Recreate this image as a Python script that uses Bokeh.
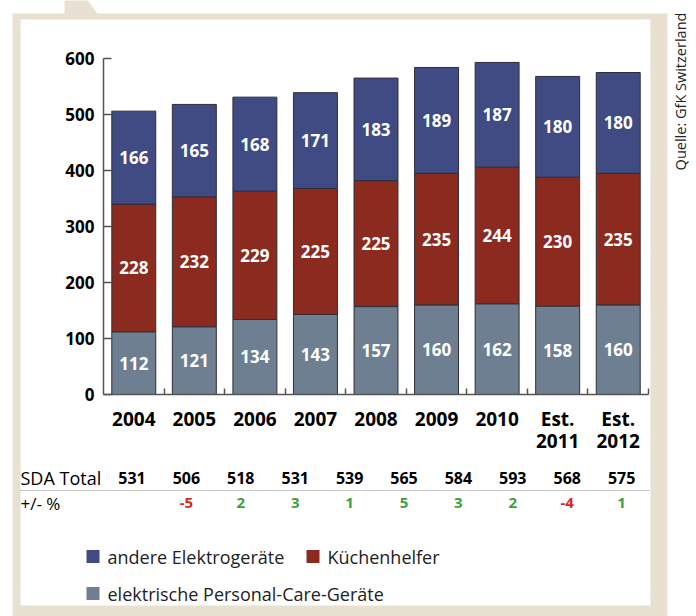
from math import pi
from bokeh.plotting import figure
from bokeh.models import (ColumnDataSource, FixedTicker, Label, BoxAnnotation,
                          PolyAnnotation, Arrow, Range1d)
from bokeh.core.properties import value
from bokeh.embed import file_html
from bokeh.resources import INLINE

# ---------------- data ----------------
years = ["2004", "2005", "2006", "2007", "2008", "2009", "2010", "Est.\n2011", "Est.\n2012"]
personal = [112, 121, 134, 143, 157, 160, 162, 158, 160]   # elektrische Personal-Care-Geräte
kitchen = [228, 232, 229, 225, 225, 235, 244, 230, 235]    # Küchenhelfer
other = [166, 165, 168, 171, 183, 189, 187, 180, 180]      # andere Elektrogeräte
y_ticks = [0, 100, 200, 300, 400, 500, 600]
table_totals = [531, 506, 518, 531, 539, 565, 584, 593, 568, 575]
table_change = [None, -5, 2, 3, 1, 5, 3, 2, -4, 1]
series_names = ["andere Elektrogeräte", "Küchenhelfer", "elektrische Personal-Care-Geräte"]
source_text = "Quelle: GfK Switzerland"

# ---------------- style ----------------
C_PERSONAL = "#6e7f92"
C_KITCHEN = "#8b2a1f"
C_OTHER = "#404b84"
BEIGE = "#e8e1d1"
FONT = "Open Sans"
AXIS = "#555555"

W, H = 696, 616
# chart area inside the canvas (pixels from top-left of the canvas)
CH_L, CH_R, CH_T, CH_B = 103, 648, 58, 394
n = len(years)
YMAX = 600
sx = (CH_R - CH_L) / n          # px per category
sy = (CH_B - CH_T) / YMAX       # px per unit
x0 = -CH_L / sx
x1 = n + (W - CH_R) / sx
y0 = -(H - CH_B) / sy
y1 = YMAX + CH_T / sy


def X(px):
    return x0 + px / sx


def Y(py):
    return y0 + (H - py) / sy


p = figure(width=W, height=H, x_range=Range1d(x0, x1), y_range=Range1d(y0, y1),
           output_backend="svg", toolbar_location=None,
           min_border=0, min_border_left=0, min_border_right=0, min_border_top=0, min_border_bottom=0)
p.background_fill_color = "white"
p.border_fill_color = "white"
p.outline_line_color = None
p.grid.visible = False

# frame decoration
p.add_layout(BoxAnnotation(left=X(12), right=X(667), top=Y(13), bottom=Y(620),
                           fill_color=BEIGE, fill_alpha=1, line_color=None, level="underlay"))
p.add_layout(PolyAnnotation(xs=[X(64), X(86), X(97), X(64)], ys=[Y(-2), Y(-2), Y(13.5), Y(13.5)],
                            fill_color=BEIGE, fill_alpha=1, line_color=None, level="underlay"))
p.add_layout(BoxAnnotation(left=X(20), right=X(650), top=Y(19), bottom=Y(605),
                           fill_color="white", fill_alpha=1, line_color=None, level="underlay"))

# bars
xs = [i + 0.5 for i in range(n)]
src = ColumnDataSource(dict(x=xs, personal=personal, kitchen=kitchen, other=other))
p.vbar_stack(["personal", "kitchen", "other"], x="x", width=0.726, source=src,
             fill_color=[C_PERSONAL, C_KITCHEN, C_OTHER], line_color="#2e2e3a", line_width=1)

# segment labels
lx, ly, lt = [], [], []
for i in range(n):
    base = 0
    for v in (personal[i], kitchen[i], other[i]):
        lx.append(xs[i]); ly.append(base + v / 2); lt.append(str(v))
        base += v
p.text(x=lx, y=ly, text=lt, text_color="white", text_font=value(FONT), text_font_style="bold",
       text_font_size="17px", text_align="center", text_baseline="middle")

# axes
ya = p.yaxis[0]
ya.fixed_location = 0
ya.bounds = (0, YMAX)
ya.ticker = FixedTicker(ticks=y_ticks)
ya.major_label_text_font = FONT
ya.major_label_text_font_style = "bold"
ya.major_label_text_font_size = "17px"
ya.major_label_text_color = "black"
ya.major_tick_in = 8
ya.major_tick_out = 0
ya.minor_tick_line_color = None
ya.major_tick_line_color = AXIS
ya.major_tick_line_width = 1.5
ya.axis_line_color = AXIS
ya.axis_line_width = 1.5
ya.major_label_standoff = 9

xa = p.xaxis[0]
xa.fixed_location = 0
xa.bounds = (0, n)
xa.ticker = FixedTicker(ticks=xs, minor_ticks=[i + 1 for i in range(n)])
xa.major_label_overrides = {x: y for x, y in zip(xs, years)}
xa.major_label_text_font = FONT
xa.major_label_text_font_style = "bold"
xa.major_label_text_font_size = "19px"
xa.major_label_text_color = "black"
xa.major_label_text_line_height = 0.88
xa.major_tick_line_color = None
xa.minor_tick_in = 6
xa.minor_tick_out = 0
xa.minor_tick_line_color = AXIS
xa.minor_tick_line_width = 1.5
xa.axis_line_color = AXIS
xa.axis_line_width = 1.5
xa.major_label_standoff = 5

# table below chart
col0, step = 131.5, 54.4
row1, row2 = 477.5, 502.5
p.add_layout(Label(x=X(20), y=Y(row1), text="SDA Total",
                   text_font=FONT, text_font_size="18px", text_color="black",
                   text_align="left", text_baseline="middle"))
p.add_layout(Label(x=X(20), y=Y(row2), text="+/- %",
                   text_font=FONT, text_font_size="17px", text_color="black",
                   text_align="left", text_baseline="middle"))
for i, (t, c) in enumerate(zip(table_totals, table_change)):
    cx = col0 + step * i
    p.add_layout(Label(x=X(cx), y=Y(row1), text=str(t),
                       text_font=FONT, text_font_style="bold", text_font_size="16px",
                       text_color="black", text_align="center", text_baseline="middle"))
    if c is not None:
        p.add_layout(Label(x=X(cx), y=Y(row2), text=str(c),
                           text_font=FONT, text_font_style="bold", text_font_size="15px",
                           text_color="#d42a22" if c < 0 else "#3f9e3f",
                           text_align="center", text_baseline="middle"))
p.add_layout(Arrow(x_start=X(20), y_start=Y(490), x_end=X(650), y_end=Y(490),
                   start=None, end=None, line_color="#888888", line_width=1, line_dash="1 1"))

# legend (manual)
leg = [(86, 556, C_OTHER, series_names[0]), (306, 556, C_KITCHEN, series_names[1]),
       (86, 593, C_PERSONAL, series_names[2])]
for lx0, lyc, col, name in leg:
    p.add_layout(BoxAnnotation(left=X(lx0), right=X(lx0 + 13), top=Y(lyc - 6.5), bottom=Y(lyc + 6.5),
                               fill_color=col, fill_alpha=1, line_color=None))
    p.add_layout(Label(x=X(lx0 + 21), y=Y(lyc), text=name,
                       text_font=FONT, text_font_size="18px", text_color="#222222",
                       text_align="left", text_baseline="middle"))

# source text
p.add_layout(Label(x=X(680), y=Y(91), text=source_text, angle=pi / 2,
                   text_font=FONT, text_font_size="14.5px", text_color="#222222",
                   text_align="center", text_baseline="middle"))

open("out.html", "w").write(file_html(p, INLINE))
